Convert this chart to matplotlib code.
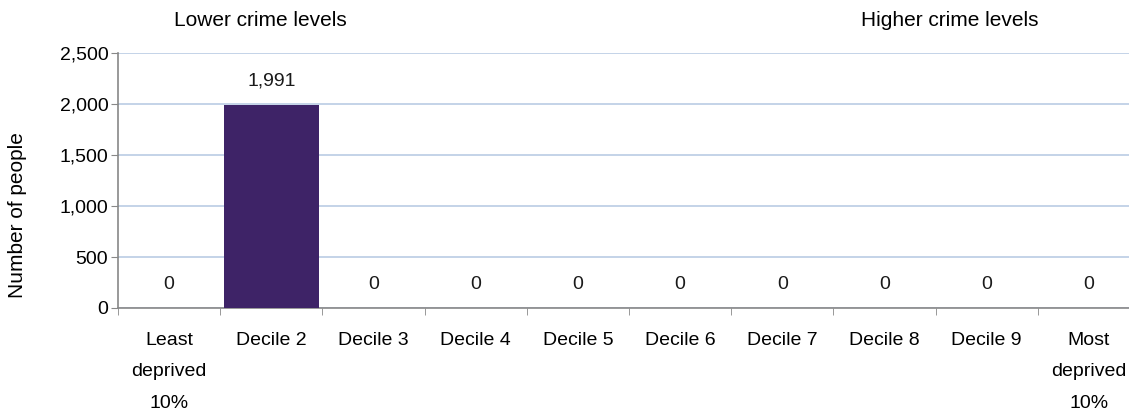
import matplotlib
matplotlib.use("Agg")
import matplotlib.pyplot as plt
from matplotlib.ticker import FuncFormatter, MultipleLocator
import numpy as np

categories = ["Least\ndeprived\n10%", "Decile 2", "Decile 3", "Decile 4", "Decile 5",
              "Decile 6", "Decile 7", "Decile 8", "Decile 9", "Most\ndeprived\n10%"]
values = [0, 1991, 0, 0, 0, 0, 0, 0, 0, 0]

plt.rcParams['font.family'] = ['Liberation Sans', 'DejaVu Sans']
fs = 14

fig = plt.figure(figsize=(11.29, 4.17), dpi=100)
W, H = 1129, 417
left, right, top, bottom = 118, 1140, 53, 308
ax = fig.add_axes([left / W, 1 - bottom / H, (right - left) / W, (bottom - top) / H])

x = np.arange(len(categories))
ax.bar(x, values, width=0.93, color="#3E2367", zorder=3)
for xi, v in zip(x, values):
    ax.annotate(f"{v:,}", (xi, v), xytext=(0, 17), textcoords="offset points",
                ha="center", va="center", fontsize=fs, color="#1a1a1a")

ax.set_xlim(-0.5, len(categories) - 0.5)
ax.set_ylim(0, 2500)
ax.yaxis.set_major_locator(MultipleLocator(500))
ax.yaxis.set_major_formatter(FuncFormatter(lambda v, p: f"{int(v):,}"))
ax.grid(axis="y", color="#BFD0E6", linewidth=1.3, zorder=0)

ax.set_xticks(x)
ax.set_xticklabels(categories, fontsize=fs, linespacing=2.12, va="top")
ax.set_xticks(np.arange(len(categories) + 1) - 0.5, minor=True)
ax.tick_params(axis="x", which="major", length=0, pad=17)
ax.tick_params(axis="x", which="minor", length=5, color="#888888", direction="out")
ax.tick_params(axis="y", length=5, color="#888888", labelsize=fs, pad=2)

for s in ["top", "right"]:
    ax.spines[s].set_visible(False)
for s in ["left", "bottom"]:
    ax.spines[s].set_color("#888888")
    ax.spines[s].set_linewidth(1.2)

fig.text(18 / W, 1 - 215 / H, "Number of people", rotation=90,
         ha="center", va="center", fontsize=15)

fig.text(260 / W, 1 - 20 / H, "Lower crime levels", ha="center", va="center", fontsize=15)
fig.text(950 / W, 1 - 20 / H, "Higher crime levels", ha="center", va="center", fontsize=15)

plt.savefig("out.png", dpi=100)
